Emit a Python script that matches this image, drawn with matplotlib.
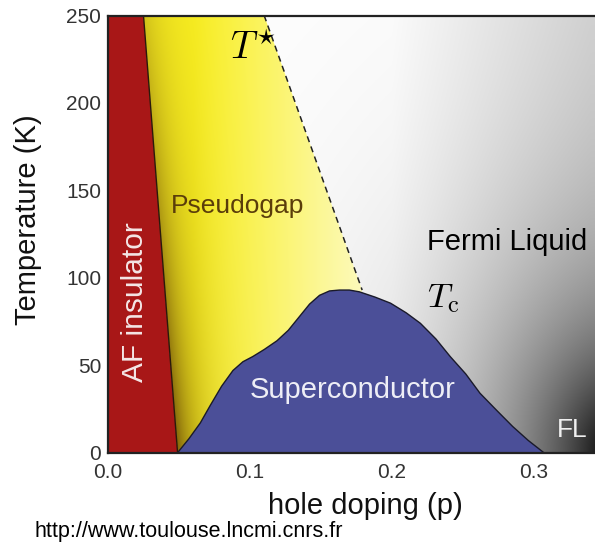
import numpy as np
import matplotlib.pyplot as plt
from matplotlib.patches import Polygon
from matplotlib.ticker import MultipleLocator

plt.rcParams['font.family'] = ['Liberation Sans', 'DejaVu Sans']
plt.rcParams['mathtext.fontset'] = 'cm'

# AF boundary (p at T=250, p at T=0)
af_p = [0.025, 0.049]
af_T = [250, 0]

# T* crossover line
tstar_p = [0.110, 0.179]
tstar_T = [250, 93]

# superconducting dome Tc(p)
dome_p = [0.049, 0.057, 0.065, 0.072, 0.080, 0.088, 0.095, 0.102, 0.110, 0.119,
          0.127, 0.135, 0.142, 0.149, 0.156, 0.163, 0.170, 0.177, 0.188, 0.199,
          0.210, 0.220, 0.231, 0.241, 0.252, 0.262, 0.274, 0.285, 0.296, 0.307]
dome_T = [0, 8, 17, 27, 38, 47, 52, 55, 59, 64,
          70, 78, 85, 90, 92.5, 93, 93, 92, 89, 85.5,
          80, 74, 65, 55, 45, 34, 24, 15, 7, 0]

xmax, ymax = 0.343, 250

fig = plt.figure(figsize=(5.95, 5.46), dpi=100)
ax = fig.add_axes([108 / 595, 1 - 452.7 / 546, 1 - 108 / 595, (452.7 - 15.5) / 546])
ax.set_xlim(0, xmax)
ax.set_ylim(0, ymax)

# grid for gradients
P, T = np.meshgrid(np.linspace(0, xmax, 700), np.linspace(0, ymax, 600))

# Fermi liquid background: white -> dark towards bottom right
r = np.sqrt(((0.36 - P) / 0.25) ** 2 + (T / 250) ** 2)
v = 1 - 0.9 * np.exp(-r / 0.3) - 0.15 * np.clip((P - 0.2) / 0.14, 0, 1)
v = np.clip(v, 0, 1)
gray = np.dstack([v, v, v])
ax.imshow(gray, extent=[0, xmax, 0, ymax], origin='lower', aspect='auto', zorder=1)

# pseudogap yellow gradient
p_af = af_p[1] - (af_p[1] - af_p[0]) * T / 250
d = np.clip(P - p_af, 0, None)
s = np.clip((P - 0.06) / 0.12, 0, 1)[..., None]
bright = np.array([0.98, 0.94, 0.13])
pale = np.array([0.99, 0.98, 0.74])
dark = np.array([0.45, 0.33, 0.03])
base = bright * (1 - s) + pale * s
k = (np.exp(-d / 0.016) * (0.3 + 0.6 * (1 - T / 250)))[..., None]
yellow = np.clip(base * (1 - k) + dark * k, 0, 1)
pg_poly = Polygon([(af_p[0], af_T[0]), (tstar_p[0], tstar_T[0]), (tstar_p[1], tstar_T[1]),
                   (tstar_p[1], 0), (af_p[1], af_T[1])], closed=True,
                  facecolor='none', edgecolor='none', transform=ax.transData)
ax.add_patch(pg_poly)
im = ax.imshow(yellow, extent=[0, xmax, 0, ymax], origin='lower', aspect='auto', zorder=2)
im.set_clip_path(pg_poly)

# AF insulator
ax.fill([0, af_p[0], af_p[1], 0], [250, 250, 0, 0], color='#a81717', zorder=3, lw=0)
ax.plot(af_p, af_T, color='#2a1a0a', lw=1.0, zorder=4)

# superconducting dome
ax.fill(dome_p, dome_T, color='#4b4f98', zorder=5, lw=0)
ax.plot(dome_p, dome_T, color='#1a1a2a', lw=1.0, zorder=6)

# T* dashed line
ax.plot(tstar_p, tstar_T, color='#222222', lw=1.1, ls=(0, (4, 3)), zorder=6)

# labels inside plot
ax.text(0.091, 137, 'Pseudogap', fontsize=19, color='#5a3d0a', ha='center', va='baseline', zorder=7)
ax.text(0.019, 86, 'AF insulator', fontsize=21.5, color='#f4e6e6', rotation=90,
        ha='center', va='center', zorder=7)
ax.text(0.172, 31, 'Superconductor', fontsize=21, color='#eeeef6', ha='center', va='baseline', zorder=7)
ax.text(0.2246, 116, 'Fermi Liquid', fontsize=21, color='black', ha='left', va='baseline', zorder=7)
ax.text(0.316, 9, 'FL', fontsize=19, color='#f0f0f0', ha='left', va='baseline', zorder=7)
ax.text(0.086, 225, r'$T^{\star}$', fontsize=27, color='black', ha='left', va='baseline', zorder=7)
ax.text(0.2246, 83, r'$T_{\rm c}$', fontsize=25, color='black', ha='left', va='baseline', zorder=7)

# axes styling
ax.set_xticks([0.0, 0.1, 0.2, 0.3])
ax.set_xticklabels(['0.0', '0.1', '0.2', '0.3'])
ax.set_yticks([0, 50, 100, 150, 200, 250])
ax.xaxis.set_minor_locator(MultipleLocator(0.05))
ax.yaxis.set_minor_locator(MultipleLocator(25))
ax.tick_params(which='both', direction='in', colors='#222222', labelcolor='#333333')
ax.tick_params(which='major', length=6, width=1.2, labelsize=15)
ax.tick_params(axis='x', which='major', pad=7.5)
ax.tick_params(axis='y', which='major', pad=5)
ax.tick_params(which='minor', length=4, width=1.0)
for side in ['left', 'bottom', 'top']:
    ax.spines[side].set_linewidth(1.6)
    ax.spines[side].set_color('#222222')
    ax.spines[side].set_zorder(8)
ax.spines['right'].set_visible(False)

fig.text(28 / 595, 1 - 220 / 546, 'Temperature (K)', fontsize=21, rotation=90,
         ha='center', va='center', color='#111111')
fig.text(365 / 595, 1 - 514 / 546, 'hole doping (p)', fontsize=21,
         ha='center', va='baseline', color='#111111')
fig.text(35 / 595, 1 - 537 / 546, 'http://www.toulouse.lncmi.cnrs.fr', fontsize=15.5,
         ha='left', va='baseline', color='black')

fig.savefig('out.png', dpi=100)
